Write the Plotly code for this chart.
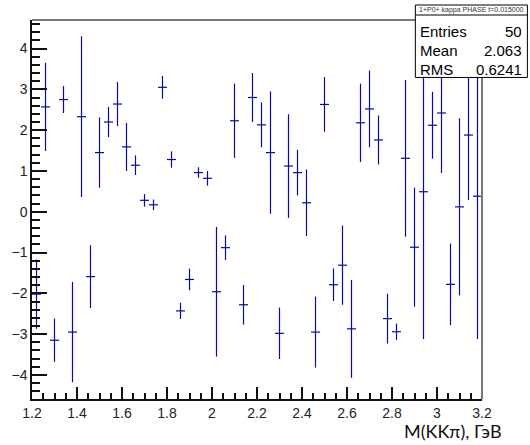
import plotly.graph_objects as go

# Phase of the 1+P0+ kappa amplitude per M(KKpi) bin (t = 0.015)
bin_width = 0.04
mass_bins = [round(1.22 + bin_width * i, 2) for i in range(50)]
phase = [
    -2.02, 2.57, -3.15, 2.75, -2.95, 2.33, -1.59, 1.45, 2.20, 2.64,
    1.59, 1.14, 0.28, 0.17, 3.05, 1.28, -2.43, -1.66, 0.96, 0.82,
    -1.96, -0.88, 2.23, -2.28, 2.80, 2.13, 1.45, -2.98, 1.12, 0.96,
    0.22, -2.95, 2.63, -1.79, -1.31, -2.87, 2.18, 2.52, 1.76, -2.62,
    -2.94, 1.31, -0.87, 0.49, 2.12, 2.42, -1.78, 0.12, 1.88, 0.38,
]
phase_err = [
    0.85, 1.08, 0.53, 0.33, 1.23, 1.97, 0.77, 0.86, 0.37, 0.54,
    0.59, 0.24, 0.155, 0.13, 0.28, 0.20, 0.20, 0.265, 0.13, 0.18,
    1.59, 0.30, 0.91, 0.485, 0.60, 0.55, 1.50, 0.63, 1.27, 0.56,
    0.815, 0.87, 0.67, 0.40, 0.97, 1.20, 0.96, 0.94, 0.60, 0.61,
    0.20, 1.92, 1.46, 3.61, 0.82, 1.47, 1.00, 2.17, 1.59, 3.50,
]

stats_title = "1+P0+ kappa PHASE t=0.015000"
stats_rows = [("Entries", "50"), ("Mean", "2.063"), ("RMS", "0.6241")]
x_title = "M(KKπ), ГэВ"

W, H = 530, 445
ML, MR, MT, MB = 31.5, 47.5, 20, 45.7
PW, PH = W - ML - MR, H - MT - MB

def px(x):
    return (x - ML) / PW

def py(y):
    return (H - MB - y) / PH

line_col = "#0a0a9c"

fig = go.Figure()
fig.add_trace(go.Scatter(
    x=mass_bins, y=phase, mode="markers",
    marker=dict(size=0.1, color=line_col, opacity=0),
    error_y=dict(type="data", array=phase_err, visible=True,
                 color=line_col, thickness=1.2, width=0),
    error_x=dict(type="constant", value=bin_width / 2, visible=True,
                 color=line_col, thickness=1.2, width=0),
    hoverinfo="x+y", showlegend=False,
))

tick_font = dict(family="Liberation Sans, Arial, sans-serif", size=14, color="#222")

fig.update_layout(
    width=W, height=H,
    margin=dict(l=ML, r=MR, t=MT, b=MB, pad=0),
    paper_bgcolor="white", plot_bgcolor="white",
    xaxis=dict(
        range=[1.2, 3.2], showgrid=False, zeroline=False,
        showline=True, linecolor="#111", linewidth=1.5,
        ticks="inside", ticklen=12, tickwidth=1.5, tickcolor="#111",
        dtick=0.2, tick0=1.2, tickformat="~g",
        minor=dict(ticks="inside", ticklen=6, dtick=0.05, tickcolor="#111", tickwidth=1.5),
        tickfont=tick_font,
    ),
    yaxis=dict(
        range=[-4.59, 4.70], showgrid=False, zeroline=False,
        showline=True, linecolor="#111", linewidth=1.5,
        ticks="inside", ticklen=15, tickwidth=1.5, tickcolor="#111",
        dtick=1, tick0=0,
        minor=dict(ticks="inside", ticklen=8, dtick=0.2, tickcolor="#111", tickwidth=1.5),
        tickfont=tick_font,
    ),
    showlegend=False,
)

# top and right frame edges
fig.add_shape(type="line", xref="paper", yref="paper", x0=0, x1=1, y0=1, y1=1,
              line=dict(color="#777", width=2))
fig.add_shape(type="line", xref="paper", yref="paper", x0=1, x1=1, y0=0, y1=1,
              line=dict(color="#777", width=2))

# statistics box
bx0, bx1, by0, bsep, by1 = 415.7, 528.0, 5.0, 15.0, 77.5
fig.add_shape(type="rect", xref="paper", yref="paper",
              x0=px(bx0), x1=px(bx1), y0=py(by1), y1=py(by0),
              fillcolor="white", line=dict(color="black", width=1), layer="above")
fig.add_shape(type="line", xref="paper", yref="paper",
              x0=px(bx0), x1=px(bx1), y0=py(bsep), y1=py(bsep),
              line=dict(color="black", width=1), layer="above")
fig.add_annotation(x=px((bx0 + bx1) / 2), y=py((by0 + bsep) / 2), xref="paper", yref="paper",
                   text=stats_title, showarrow=False, xanchor="center", yanchor="middle",
                   font=dict(family="Liberation Sans, Arial, sans-serif", size=7, color="#333"))
row_y = [31.5, 50.7, 69.7]
stat_font = dict(family="Liberation Sans, Arial, sans-serif", size=15, color="black")
for (label, val), yy in zip(stats_rows, row_y):
    fig.add_annotation(x=px(bx0 + 3), y=py(yy), xref="paper", yref="paper", text=label,
                       showarrow=False, xanchor="left", yanchor="middle", font=stat_font)
    fig.add_annotation(x=px(bx1 - 3), y=py(yy), xref="paper", yref="paper", text=val,
                       showarrow=False, xanchor="right", yanchor="middle", font=stat_font)

# x-axis title, right aligned below the axis
fig.add_annotation(x=px(505), y=py(431), xref="paper", yref="paper", text=x_title,
                   showarrow=False, xanchor="right", yanchor="middle",
                   font=dict(family="Lato, Open Sans, sans-serif", size=18, color="#111"))

fig.write_html("out.html")
